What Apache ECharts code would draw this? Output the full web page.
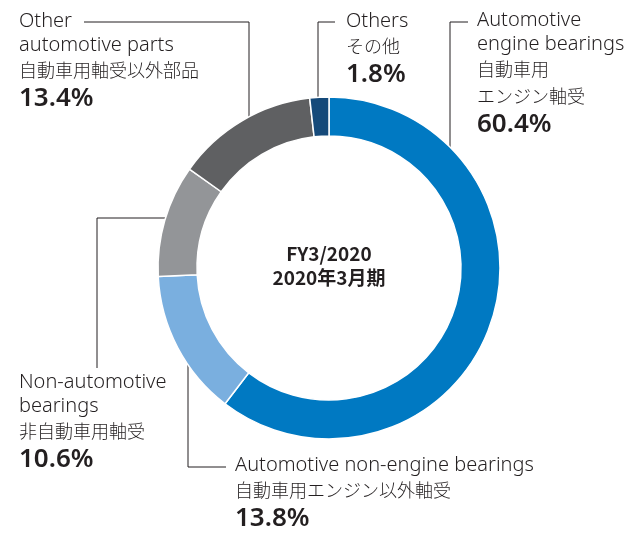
<!DOCTYPE html>
<html>
<head>
<meta charset="utf-8">
<script src="https://cdn.jsdelivr.net/npm/echarts@6/dist/echarts.min.js"></script>
<style>
html, body { margin: 0; padding: 0; background: #fff; }
#main { width: 627px; height: 533px; }
</style>
</head>
<body>
<div id="main"></div>
<script>
// segments, clockwise from 12 o'clock
const namesEn = [
  ['Automotive', 'engine bearings'],
  ['Automotive non-engine bearings'],
  ['Non-automotive', 'bearings'],
  ['Other', 'automotive parts'],
  ['Others']
]
const namesJa = [
  ['自動車用', 'エンジン軸受'],
  ['自動車用エンジン以外軸受'],
  ['非自動車用軸受'],
  ['自動車用軸受以外部品'],
  ['その他']
]
const shares = [60.4, 13.8, 10.6, 13.4, 1.8]
const centerText = ['FY3/2020', '2020年3月期']

const colors = ['#0079c2', '#7aafdf', '#939598', '#5f6062', '#154a7a']

// label block top-left + leader line points, per segment
const labelPos = [
  { x: 477, y: 8, line: [[468, 22], [450, 22], [450, 158]] },
  { x: 235, y: 453, line: [[226, 467], [188, 467], [188, 353]] },
  { x: 19, y: 370, line: [[97, 368], [97, 218], [173, 218]] },
  { x: 19, y: 9, line: [[84, 22], [249, 22], [249, 125]] },
  { x: 346, y: 9, line: [[335, 22], [318, 22], [318, 101]] }
]

const font = '"Noto Sans", "Noto Sans CJK JP", sans-serif'
const jfont = '"Noto Sans CJK JP", sans-serif'

let chart = echarts.init(document.getElementById('main'))
chart.setOption({
  animation: false,
  series: [{
    type: 'pie',
    center: [329, 268],
    radius: [132, 171],
    startAngle: 90,
    clockwise: true,
    avoidLabelOverlap: false,
    itemStyle: { borderColor: '#fff', borderWidth: 1.5 },
    emphasis: { disabled: true },
    data: shares.map((v, i) => ({
      name: namesEn[i].join(' '),
      value: v,
      itemStyle: { color: colors[i] }
    })),
    label: {
      show: true,
      position: 'outside',
      formatter: p => {
        let i = p.dataIndex
        let s = namesEn[i].map(t => '{en|' + t + '}')
        s = s.concat(namesJa[i].map(t => '{ja|' + t + '}'))
        s.push('{pct|' + shares[i].toFixed(1) + '%}')
        return s.join('\n')
      },
      rich: {
        en: { fontFamily: font, fontSize: 20, fontWeight: 300, color: '#231f20', lineHeight: 24 },
        ja: { fontFamily: jfont, fontSize: 18, fontWeight: 300, color: '#231f20', lineHeight: 27 },
        pct: { fontFamily: font, fontSize: 26, fontWeight: 600, color: '#231f20', lineHeight: 30 }
      }
    },
    labelLine: { show: true, lineStyle: { color: '#231f20', width: 1 } },
    labelLayout: p => {
      let L = labelPos[p.dataIndex]
      return { x: L.x, y: L.y, align: 'left', verticalAlign: 'top', labelLinePoints: L.line }
    }
  }],
  graphic: [{
    type: 'text',
    x: 329,
    y: 266,
    style: {
      text: centerText.join('\n'),
      align: 'center',
      verticalAlign: 'middle',
      font: 'bold 19px "Noto Sans CJK JP", sans-serif',
      lineHeight: 24,
      fill: '#231f20'
    }
  }]
})
</script>
</body>
</html>
